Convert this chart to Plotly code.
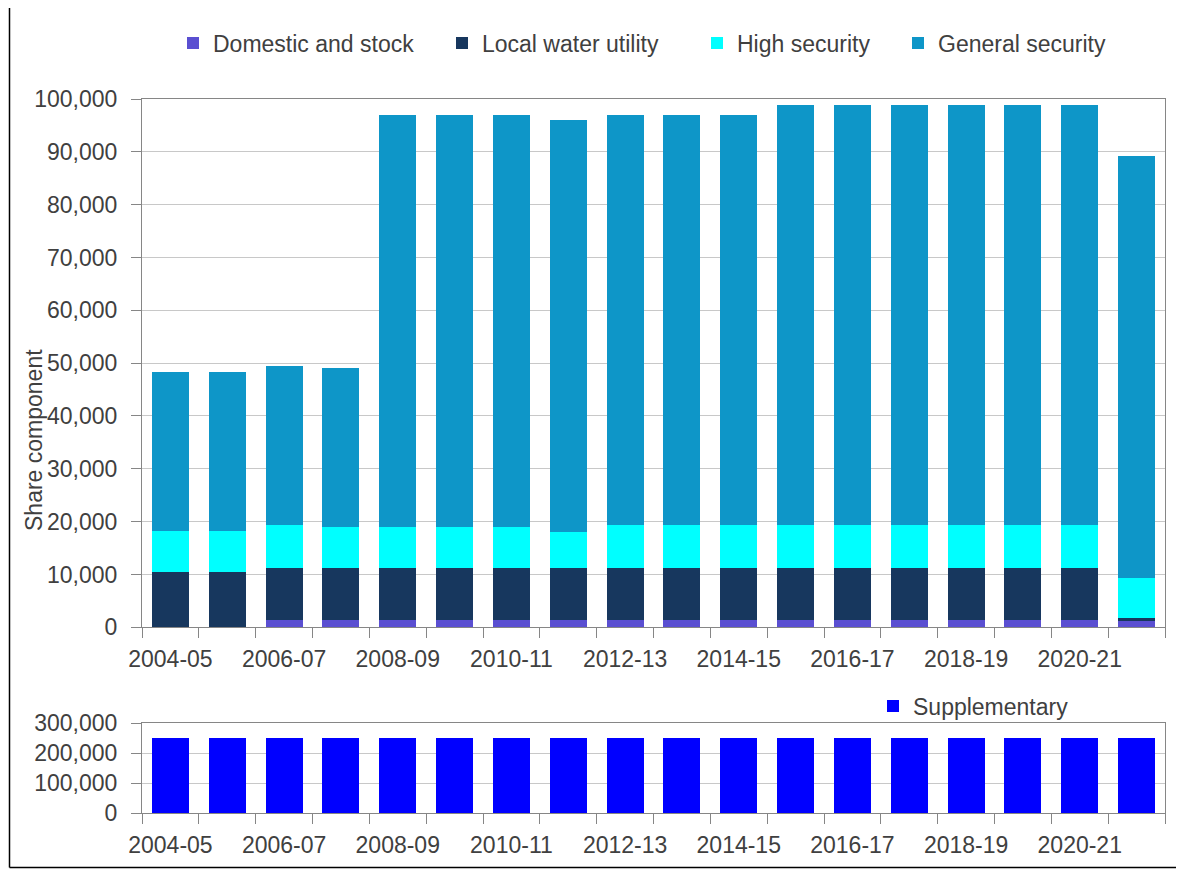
import plotly.graph_objects as go

years = ["2004-05", "2005-06", "2006-07", "2007-08", "2008-09", "2009-10", "2010-11",
         "2011-12", "2012-13", "2013-14", "2014-15", "2015-16", "2016-17", "2017-18",
         "2018-19", "2019-20", "2020-21", "2021-22"]
tick_labels = ["2004-05", "", "2006-07", "", "2008-09", "", "2010-11", "", "2012-13", "",
               "2014-15", "", "2016-17", "", "2018-19", "", "2020-21", ""]

domestic_stock = [0, 0, 1400, 1400, 1400, 1400, 1400, 1400, 1400, 1400, 1400, 1400, 1400,
                  1400, 1400, 1400, 1400, 1200]
local_water = [10500, 10500, 9800, 9800, 9800, 9800, 9800, 9800, 9800, 9800, 9800, 9800,
               9800, 9800, 9800, 9800, 9800, 500]
high_security = [7700, 7700, 8200, 7800, 7800, 7800, 7800, 6900, 8200, 8200, 8200, 8200,
                 8200, 8200, 8200, 8200, 8200, 7700]
general_security = [30100, 30100, 30000, 30000, 78000, 78000, 78000, 77900, 77600, 77600,
                    77600, 79400, 79400, 79400, 79400, 79400, 79400, 79800]
supplementary = [250000, 250000, 250000, 250000, 250000, 250000, 250000, 250000, 250000,
                 250000, 250000, 250000, 250000, 250000, 250000, 250000, 250000, 250000]

FONT = "Liberation Sans"
FS = 23
TXT = "#404040"
AX = "#868686"
GRID = "#c8c8c8"

# the page places the figure 8 px from the window's top-left corner
OFF = 8
W, H = 1184 - OFF, 870 - OFF
ML = 142 - OFF
MT = 99 - OFF
MR = W - (1165 - OFF)
MB = H - (813 - OFF)
PW = W - ML - MR
PH = H - MT - MB


def px_x(x):
    return (x - OFF - ML) / PW


def px_y(y):
    return (H - MB - (y - OFF)) / PH


fig = go.Figure()
series = [
    ("Domestic and stock", domestic_stock, "#5a4fd1", "legend", 213),
    ("Local water utility", local_water, "#17375e", "legend2", 482),
    ("High security", high_security, "#00ffff", "legend3", 737),
    ("General security", general_security, "#0e96c8", "legend4", 938),
]
for name, vals, col, lg, _ in series:
    fig.add_trace(go.Bar(x=years, y=vals, name=name, marker=dict(color=col, line=dict(width=0)),
                         xaxis="x", yaxis="y", legend=lg))

fig.add_trace(go.Bar(x=years, y=supplementary, name="Supplementary",
                     marker=dict(color="#0000ff", line=dict(width=0)),
                     xaxis="x2", yaxis="y2", legend="legend5"))

top_bottom = px_y(627.3)
bot_top = px_y(723.3)

common_x = dict(type="category", tickmode="array", tickvals=years, ticktext=tick_labels,
                tickson="boundaries", ticks="outside", ticklen=10, tickcolor=AX,
                showline=True, linecolor=AX, linewidth=1, mirror=True, showgrid=False,
                tickfont=dict(family=FONT, size=FS, color=TXT), tickangle=0,
                ticklabelstandoff=11)
common_y = dict(ticks="outside", ticklen=10, tickcolor=AX, showline=True, linecolor=AX,
                linewidth=1, mirror=True, showgrid=True, gridcolor=GRID, gridwidth=1,
                tickformat=",", tickfont=dict(family=FONT, size=FS, color=TXT),
                ticklabelstandoff=9, zeroline=False)

legend_common = dict(orientation="h", xanchor="left", yanchor="middle",
                     font=dict(family=FONT, size=FS, color=TXT), bgcolor="rgba(0,0,0,0)")
layout_legends = {}
for name, vals, col, lg, tx in series:
    layout_legends[lg] = dict(legend_common, x=px_x(tx - 40), y=px_y(43))
layout_legends["legend5"] = dict(legend_common, x=px_x(913 - 40), y=px_y(706))

border = dict(color="#000000", width=1.5)
fig.update_layout(
    width=W, height=H,
    margin=dict(l=ML, r=MR, t=MT, b=MB),
    paper_bgcolor="white", plot_bgcolor="white",
    barmode="stack", bargap=0.35,
    showlegend=True,
    xaxis=dict(common_x, domain=[0, 1], anchor="y"),
    yaxis=dict(common_y, domain=[top_bottom, 1], range=[0, 100000], dtick=10000, anchor="x"),
    xaxis2=dict(common_x, domain=[0, 1], anchor="y2"),
    yaxis2=dict(common_y, domain=[0, bot_top], range=[0, 300000], dtick=100000, anchor="x2"),
    **layout_legends,
    annotations=[dict(text="Share component", textangle=-90, xref="paper", yref="paper",
                      x=px_x(34), y=px_y(440), xanchor="center", yanchor="middle",
                      showarrow=False, font=dict(family=FONT, size=FS, color=TXT))],
    shapes=[
        dict(type="line", xref="paper", yref="paper", x0=px_x(9.5), x1=px_x(9.5),
             y0=px_y(867.5), y1=px_y(OFF), line=border, layer="above"),
        dict(type="line", xref="paper", yref="paper", x0=px_x(9.5), x1=px_x(1178),
             y0=px_y(867.5), y1=px_y(867.5), line=border, layer="above"),
        dict(type="line", xref="paper", yref="paper", x0=px_x(1178), x1=px_x(1178),
             y0=px_y(867.5), y1=px_y(OFF), line=border, layer="above"),
    ],
)

fig.write_html("out.html")
